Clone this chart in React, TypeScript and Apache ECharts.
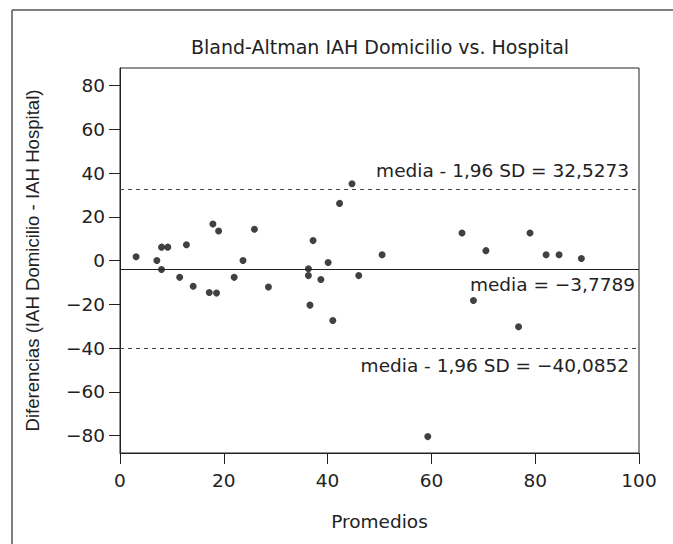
import React, { useEffect, useRef } from "react";
import * as echarts from "echarts";

const avgValues = [
  3.1, 7.1, 8.0, 8.0, 9.2, 11.5, 12.8, 14.1, 17.2, 17.9, 18.6, 19.0, 22.0, 23.7,
  25.9, 28.6, 36.3, 36.3, 36.6, 37.2, 38.7, 40.1, 41.0, 42.3, 44.7, 46.0, 50.5,
  59.3, 65.9, 68.1, 70.5, 79.0, 82.1, 84.6, 88.9, 76.8,
];
const diffValues = [
  1.7, 0.0, -4.1, 6.1, 6.1, -7.7, 7.2, -11.8, -14.6, 16.7, -14.9, 13.5, -7.7, 0.0,
  14.3, -12.1, -3.8, -6.9, -20.4, 9.1, -8.7, -0.9, -27.4, 26.1, 35.1, -6.9, 2.6,
  -80.5, 12.6, -18.3, 4.5, 12.6, 2.6, 2.6, 0.9, -30.3,
];
const meanDiff = -3.7789;
const upperLoA = 32.5273;
const lowerLoA = -40.0852;
const xTicks = [0, 20, 40, 60, 80, 100];
const yTicks = [-80, -60, -40, -20, 0, 20, 40, 60, 80];

const titleText = "Bland-Altman IAH Domicilio vs. Hospital";
const xName = "Promedios";
const yName = "Diferencias (IAH Domicilio - IAH Hospital)";

const fmt = (v: number) => String(v).replace("-", "\u2212").replace(".", ",");

export default function App() {
  const ref = useRef<HTMLDivElement>(null);
  useEffect(() => {
    if (!ref.current) return;
    const chart = echarts.init(ref.current, null, { renderer: "svg" });
    const font = "'DejaVu Sans', Verdana, sans-serif";
    const vfont = "'Liberation Sans', Arial, Helvetica, sans-serif";
    const textColor = "#222";
    const points = avgValues.map((x, i) => [x, diffValues[i]]);
    const fs = 18.5;
    chart.setOption({
      animation: false,
      backgroundColor: "#fff",
      textStyle: { fontFamily: font },
      grid: {
        left: 120,
        right: 34,
        top: 68,
        bottom: 91,
        show: true,
        borderColor: "#222",
        borderWidth: 1,
        backgroundColor: "transparent",
      },
      graphic: [
        {
          type: "line",
          shape: { x1: 12, y1: 10, x2: 12, y2: 544 },
          style: { stroke: "#555", lineWidth: 1.5 },
        },
        {
          type: "line",
          shape: { x1: 12, y1: 10, x2: 673, y2: 10 },
          style: { stroke: "#555", lineWidth: 1.5 },
        },
        {
          type: "text",
          x: 380,
          y: 47,
          style: {
            text: titleText,
            fill: textColor,
            fontSize: 19,
            fontFamily: font,
            textAlign: "center",
            textVerticalAlign: "middle",
          },
        },
      ],
      xAxis: {
        type: "value",
        min: 0,
        max: 100,
        interval: 20,
        name: xName,
        nameLocation: "middle",
        nameGap: 59,
        nameTextStyle: { fontSize: fs, color: textColor, fontFamily: font },
        axisLine: { show: true, onZero: false, lineStyle: { color: "#222", width: 1 } },
        axisTick: { show: true, length: 11, lineStyle: { color: "#222" } },
        axisLabel: {
          color: textColor,
          fontSize: fs,
          margin: 18,
          fontFamily: font,
          formatter: fmt,
        },
        splitLine: { show: false },
      },
      yAxis: {
        type: "value",
        min: -88,
        max: 88,
        name: yName,
        nameLocation: "middle",
        nameGap: 78,
        nameTextStyle: { fontSize: 18.6, color: textColor, fontFamily: vfont },
        axisLine: { show: true, onZero: false, lineStyle: { color: "#222", width: 1 } },
        axisTick: {
          show: true,
          length: 11,
          customValues: yTicks,
          lineStyle: { color: "#222" },
        },
        axisLabel: {
          color: textColor,
          fontSize: fs,
          margin: 15,
          fontFamily: font,
          customValues: yTicks,
          formatter: fmt,
        },
        splitLine: { show: false },
      },
      series: [
        {
          type: "scatter",
          data: points,
          symbol: "circle",
          symbolSize: 7,
          itemStyle: { color: "#111" },
          markLine: {
            silent: true,
            symbol: "none",
            animation: false,
            data: [
              {
                yAxis: upperLoA,
                lineStyle: { type: [4, 4], color: "#444", width: 1 },
                label: {
                  show: true,
                  position: "insideEndTop",
                  distance: [10, 9],
                  formatter: "media - 1,96 SD = " + fmt(upperLoA),
                  fontSize: fs,
                  color: textColor,
                  fontFamily: font,
                },
              },
              {
                yAxis: meanDiff,
                lineStyle: { type: "solid", color: "#222", width: 1.2 },
                label: {
                  show: true,
                  position: "insideEndBottom",
                  distance: [4, 6],
                  formatter: "media = " + fmt(meanDiff),
                  fontSize: fs,
                  color: textColor,
                  fontFamily: font,
                },
              },
              {
                yAxis: lowerLoA,
                lineStyle: { type: [4, 4], color: "#444", width: 1 },
                label: {
                  show: true,
                  position: "insideEndBottom",
                  distance: [10, 8],
                  formatter: "media - 1,96 SD = " + fmt(lowerLoA),
                  fontSize: fs,
                  color: textColor,
                  fontFamily: font,
                },
              },
            ],
          },
        },
      ],
    });
    return () => chart.dispose();
  }, []);
  return (
    <div
      ref={ref}
      style={{ position: "fixed", left: 0, top: 0, width: 673, height: 544 }}
    />
  );
}
